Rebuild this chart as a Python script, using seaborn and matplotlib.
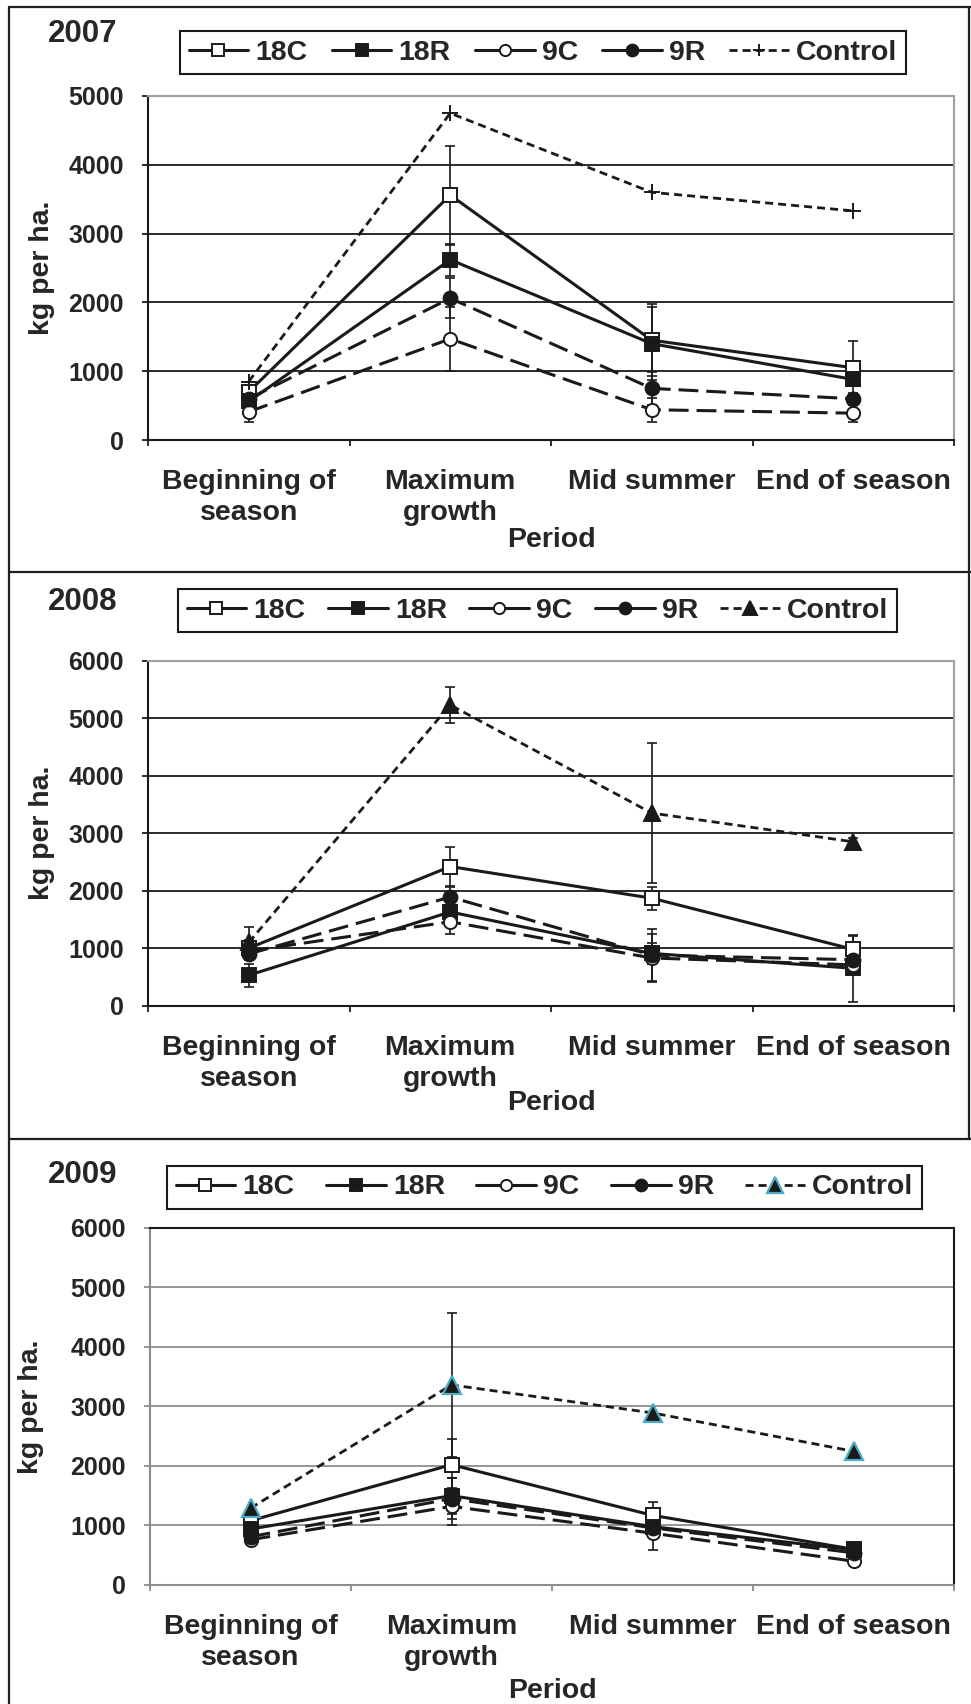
import numpy as np
import pandas as pd
import matplotlib
matplotlib.use("Agg")
import matplotlib.pyplot as plt
from matplotlib.lines import Line2D
from matplotlib.ticker import FixedLocator, FixedFormatter, NullFormatter
import seaborn as sns

# ---------------------------------------------------------------- data
periods = ["Beginning of\nseason", "Maximum\ngrowth", "Mid summer", "End of season"]
treatments = ["18C", "18R", "9C", "9R", "Control"]
years = ["2007", "2008", "2009"]

# 2007 (kg per ha.)
y2007_18C = [700, 3560, 1450, 1050]
y2007_18R = [560, 2620, 1400, 880]
y2007_9C = [410, 1470, 440, 390]
y2007_9R = [600, 2060, 750, 600]
y2007_Control = [850, 4750, 3600, 3330]
e2007_18C = [145, 720, 520, 390]
e2007_18R = [100, 230, 530, 100]
e2007_9C = [145, 470, 175, 125]
e2007_9R = [100, 290, 235, 80]
e2007_Control = [0, 0, 0, 0]

# 2008 (kg per ha.)
y2008_18C = [1000, 2420, 1870, 980]
y2008_18R = [530, 1630, 910, 650]
y2008_9C = [950, 1460, 830, 710]
y2008_9R = [900, 1890, 880, 800]
y2008_Control = [1100, 5230, 3350, 2850]
e2008_18C = [150, 340, 200, 230]
e2008_18R = [200, 200, 180, 580]
e2008_9C = [100, 210, 410, 100]
e2008_9R = [100, 180, 450, 100]
e2008_Control = [270, 310, 1220, 60]

# 2009 (kg per ha.)
y2009_18C = [1080, 2020, 1170, 600]
y2009_18R = [940, 1500, 980, 590]
y2009_9C = [760, 1320, 870, 400]
y2009_9R = [810, 1450, 960, 540]
y2009_Control = [1290, 3360, 2890, 2245]
e2009_18C = [100, 430, 230, 50]
e2009_18R = [100, 300, 100, 50]
e2009_9C = [50, 310, 280, 50]
e2009_9R = [50, 350, 100, 50]
e2009_Control = [0, 1210, 0, 0]

ymax_by_year = {"2007": 5000, "2008": 6000, "2009": 6000}

means = {
    "2007": [y2007_18C, y2007_18R, y2007_9C, y2007_9R, y2007_Control],
    "2008": [y2008_18C, y2008_18R, y2008_9C, y2008_9R, y2008_Control],
    "2009": [y2009_18C, y2009_18R, y2009_9C, y2009_9R, y2009_Control],
}
errors = {
    "2007": [e2007_18C, e2007_18R, e2007_9C, e2007_9R, e2007_Control],
    "2008": [e2008_18C, e2008_18R, e2008_9C, e2008_9R, e2008_Control],
    "2009": [e2009_18C, e2009_18R, e2009_9C, e2009_9R, e2009_Control],
}

rows = []
for yr in years:
    for t, vals, errs in zip(treatments, means[yr], errors[yr]):
        for i, (p, v, e) in enumerate(zip(periods, vals, errs)):
            rows.append({"year": yr, "treatment": t, "period": p,
                         "pos": i, "kg": v, "err": e})
df = pd.DataFrame(rows)

# ---------------------------------------------------------------- style
sns.set_theme(style="white")
plt.rcParams["font.family"] = ["Liberation Sans", "DejaVu Sans"]
plt.rcParams["font.weight"] = "bold"

W, H = 971, 1704
fig = plt.figure(figsize=(W / 100, H / 100), dpi=100)


def fx(px):
    return px / W


def fy(py):
    return 1 - py / H


SOLID = "-"
LONG_DASH = (0, (6.5, 2.6))
SHORT_DASH = (0, (2.9, 1.8))
LW = 2.2
BLUE_EDGE = "#4bacc6"


def series_style(year, t):
    base = dict(color="k", linewidth=LW, markeredgecolor="k", markeredgewidth=1.4)
    if t == "18C":
        base.update(linestyle=SOLID, marker="s", markersize=9.5, markerfacecolor="white")
    elif t == "18R":
        base.update(linestyle=SOLID, marker="s", markersize=10, markerfacecolor="k")
    elif t == "9C":
        base.update(linestyle=LONG_DASH, marker="o", markersize=9.5, markerfacecolor="white")
    elif t == "9R":
        base.update(linestyle=LONG_DASH, marker="o", markersize=10, markerfacecolor="k")
    else:
        base.update(linestyle=SHORT_DASH, linewidth=2.0)
        if year == "2007":
            base.update(marker="+", markersize=11, markeredgewidth=1.4)
        elif year == "2008":
            base.update(marker="^", markersize=12, markerfacecolor="k")
        else:
            base.update(marker="^", markersize=13, markerfacecolor="k",
                        markeredgecolor=BLUE_EDGE, markeredgewidth=1.6)
    return base


def legend_handle(year, t):
    st = series_style(year, t)
    if t in ("9C", "9R"):
        st["linestyle"] = SOLID
    st["markersize"] = st["markersize"] * 0.85
    return Line2D([], [], **st)


# axes rectangles in pixels: (left, top, right, bottom)
panels = {
    "2007": dict(rect=(148, 96, 954, 440), grid="k", frame="#a0a0a0", axis="k",
                 title_y=34, ylab_x=42, legend=(180, 29, 906, 76), period=100, colsp=0.8),
    "2008": dict(rect=(148, 660.7, 954, 1005.7), grid="k", frame="#a0a0a0", axis="k",
                 title_y=602, ylab_x=42, legend=(178, 584, 897, 637), period=97, colsp=0.8),
    "2009": dict(rect=(150, 1227.7, 954, 1585), grid="#8c8c8c", frame="k", axis="#8c8c8c",
                 title_y=1175, ylab_x=31, legend=(167, 1166, 922, 1209), period=106, colsp=1.0),
}

for yr in years:
    cfg = panels[yr]
    l, t, r, b = cfg["rect"]
    ax = fig.add_axes([fx(l), fy(b), (r - l) / W, (b - t) / H])
    sub = df[df["year"] == yr]

    for tr in treatments:
        d = sub[sub["treatment"] == tr]
        st = series_style(yr, tr)
        sns.lineplot(data=d, x="pos", y="kg", ax=ax, errorbar=None, sort=False,
                     legend=False, zorder=3, **st)
        has_err = d[d["err"] > 0]
        if len(has_err):
            ax.errorbar(has_err["pos"], has_err["kg"], yerr=has_err["err"], fmt="none",
                        ecolor="k", elinewidth=1.2, capsize=3.5, capthick=1.2, zorder=2.5)

    ymax = ymax_by_year[yr]
    ax.set_xlim(-0.5, len(periods) - 0.5)
    ax.set_ylim(0, ymax)
    ax.set_xlabel("")
    ax.set_ylabel("")

    # value axis
    ax.set_yticks(np.arange(0, ymax + 1, 1000))
    ax.yaxis.grid(True, color=cfg["grid"], linewidth=1.3)
    ax.xaxis.grid(False)
    ax.set_axisbelow(True)
    ax.tick_params(axis="y", direction="out", length=4.5, width=1.3, color=cfg["axis"],
                   pad=13, labelsize=18, left=True)
    for lab in ax.get_yticklabels():
        lab.set_fontweight("bold")

    # category axis: tick marks between categories, labels at centres
    ax.xaxis.set_major_locator(FixedLocator(np.arange(-0.5, len(periods), 1.0)))
    ax.xaxis.set_major_formatter(NullFormatter())
    ax.xaxis.set_minor_locator(FixedLocator(np.arange(len(periods))))
    ax.xaxis.set_minor_formatter(FixedFormatter(periods))
    ax.tick_params(axis="x", which="major", direction="out", length=4.5, width=1.3,
                   color=cfg["axis"], bottom=True)
    ax.tick_params(axis="x", which="minor", length=0, pad=21, labelsize=20.5, bottom=True)
    for lab in ax.get_xticklabels(minor=True):
        lab.set_fontweight("bold")
        lab.set_linespacing(1.25)

    for side in ("top", "right"):
        ax.spines[side].set_visible(True)
        ax.spines[side].set_color(cfg["frame"])
        ax.spines[side].set_linewidth(1.5)
    for side in ("left", "bottom"):
        ax.spines[side].set_color(cfg["axis"])
        ax.spines[side].set_linewidth(1.5)

    ax.annotate("Period", xy=(0.5, 0), xycoords="axes fraction",
                xytext=(0, -cfg["period"] * 0.72), textcoords="offset points",
                ha="center", va="center", fontsize=20.5, fontweight="bold")

    fig.text(fx(cfg["ylab_x"]), fy((t + b) / 2), "kg per ha.", rotation=90,
             ha="center", va="center", fontsize=20.5, fontweight="bold")
    fig.text(fx(48), fy(cfg["title_y"]), yr, ha="left", va="center",
             fontsize=22.5, fontweight="bold")

    gl, gt, gr, gb = cfg["legend"]
    handles = [legend_handle(yr, tr) for tr in treatments]
    leg = fig.legend(handles, treatments, loc="center", ncol=5, mode="expand",
                     bbox_to_anchor=(fx(gl), fy(gb), (gr - gl) / W, (gb - gt) / H),
                     bbox_transform=fig.transFigure, frameon=True, fancybox=False,
                     edgecolor="k", framealpha=1, borderaxespad=0, borderpad=0.3,
                     handlelength=2.1, handletextpad=0.25, columnspacing=cfg["colsp"],
                     prop={"size": 20.5, "weight": "bold"})
    leg.get_frame().set_linewidth(1.5)

# outer frame and separators between the three panels
frame_kw = dict(color="#202020", linewidth=1.6, transform=fig.transFigure)
fig.add_artist(Line2D([fx(9), fx(9)], [fy(7), fy(H)], **frame_kw))
fig.add_artist(Line2D([fx(9), fx(W)], [fy(7), fy(7)], **frame_kw))
fig.add_artist(Line2D([fx(969), fx(969)], [fy(7), fy(1139)], **frame_kw))
fig.add_artist(Line2D([fx(9), fx(W)], [fy(572), fy(572)], **frame_kw))
fig.add_artist(Line2D([fx(9), fx(W)], [fy(1139), fy(1139)], **frame_kw))

fig.savefig("out.png", dpi=100, facecolor="white")
